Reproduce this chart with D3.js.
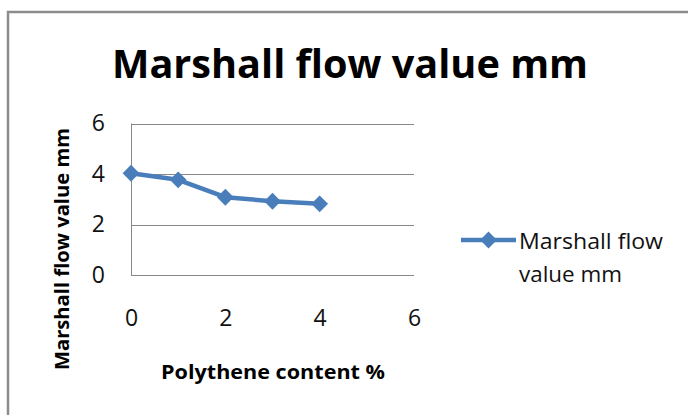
<!DOCTYPE html>
<html lang="en">
<head>
    <meta charset="UTF-8">
    <title>Marshall flow value mm</title>
    <script src="https://cdn.jsdelivr.net/npm/d3@7/dist/d3.min.js" type="text/javascript"></script>
    <style>
        body { margin: 0; background: #fff; }
        text { font-family: "Open Sans", "DejaVu Sans", sans-serif; }
    </style>
</head>
<body>
<svg width="688" height="415"></svg>
<script type="text/javascript">
    // data
    var polythene = [0, 1, 2, 3, 4];
    var flowValue = [4.03, 3.77, 3.08, 2.92, 2.82];
    var xTicks = [0, 2, 4, 6];
    var yTicks = [0, 2, 4, 6];
    var seriesName = ["Marshall flow", "value mm"];

    var svg = d3.select('svg');

    // outer frame (only top and left edges show)
    svg.append('path')
        .attr('d', 'M8,415 V12 H688')
        .attr('fill', 'none')
        .attr('stroke', '#8c8c8c')
        .attr('stroke-width', 2.5);

    var x = d3.scaleLinear().domain([0, 6]).range([131, 414]);
    var y = d3.scaleLinear().domain([0, 6]).range([275, 123.5]);

    // gridlines
    svg.append('g').selectAll('line')
        .data(yTicks)
        .enter()
        .append('line')
        .attr('x1', x(0))
        .attr('x2', x(6))
        .attr('y1', function (d) { return Math.round(y(d)) + 0.5; })
        .attr('y2', function (d) { return Math.round(y(d)) + 0.5; })
        .attr('stroke', '#888')
        .attr('stroke-width', 1);

    // y axis line
    svg.append('line')
        .attr('x1', x(0) + 0.5).attr('x2', x(0) + 0.5)
        .attr('y1', y(6)).attr('y2', y(0))
        .attr('stroke', '#888');

    // tick labels via axes, without domain and tick lines
    var yAxis = d3.axisLeft(y).tickValues(yTicks).tickFormat(d3.format('d')).tickSize(0).tickPadding(26);
    var gy = svg.append('g').attr('transform', 'translate(' + x(0) + ',0)').call(yAxis);
    var xAxis = d3.axisBottom(x).tickValues(xTicks).tickFormat(d3.format('d')).tickSize(0).tickPadding(35);
    var gx = svg.append('g').attr('transform', 'translate(0,' + y(0) + ')').call(xAxis);
    [gy, gx].forEach(function (g) {
        g.select('.domain').remove();
        g.selectAll('text')
            .attr('font-family', '"Open Sans", sans-serif')
            .attr('font-size', 23)
            .attr('fill', '#111');
    });

    // series line
    var line = d3.line()
        .x(function (d, i) { return x(polythene[i]); })
        .y(function (d) { return y(d); });
    svg.append('path')
        .datum(flowValue)
        .attr('d', line)
        .attr('fill', 'none')
        .attr('stroke', '#4a7ebb')
        .attr('stroke-width', 4.5)
        .attr('stroke-linejoin', 'round');

    var diamond = d3.symbol().type(d3.symbolDiamond2).size(180);
    svg.append('g').selectAll('path')
        .data(flowValue)
        .enter()
        .append('path')
        .attr('d', diamond)
        .attr('transform', function (d, i) {
            return 'translate(' + x(polythene[i]) + ',' + y(d) + ')';
        })
        .attr('fill', '#4a7ebb');

    // titles
    svg.append('text')
        .attr('x', 350).attr('y', 78)
        .attr('text-anchor', 'middle')
        .attr('font-size', 40)
        .attr('font-weight', 'bold')
        .attr('textLength', 476)
        .attr('lengthAdjust', 'spacingAndGlyphs')
        .text('Marshall flow value mm');

    svg.append('text')
        .attr('x', 273).attr('y', 379)
        .attr('text-anchor', 'middle')
        .attr('font-size', 19)
        .attr('font-weight', 'bold')
        .attr('textLength', 224)
        .attr('lengthAdjust', 'spacingAndGlyphs')
        .text('Polythene content %');

    svg.append('text')
        .attr('transform', 'translate(69,249) rotate(-90)')
        .attr('text-anchor', 'middle')
        .attr('font-size', 19)
        .attr('font-weight', 'bold')
        .attr('textLength', 242)
        .attr('lengthAdjust', 'spacingAndGlyphs')
        .text('Marshall flow value mm');

    // legend
    var lg = svg.append('g').attr('transform', 'translate(461,240)');
    lg.append('line')
        .attr('x1', 0).attr('x2', 55)
        .attr('y1', 0).attr('y2', 0)
        .attr('stroke', '#4a7ebb')
        .attr('stroke-width', 4.5);
    lg.append('path')
        .attr('d', diamond)
        .attr('transform', 'translate(27.5,0)')
        .attr('fill', '#4a7ebb');
    lg.selectAll('text')
        .data(seriesName)
        .enter()
        .append('text')
        .attr('x', 58)
        .attr('y', function (d, i) { return 9 + i * 33; })
        .attr('font-size', 21)
        .attr('fill', '#111')
        .attr('textLength', function (d, i) { return [144, 103][i]; })
        .attr('lengthAdjust', 'spacingAndGlyphs')
        .text(function (d) { return d; });
</script>
</body>
</html>
